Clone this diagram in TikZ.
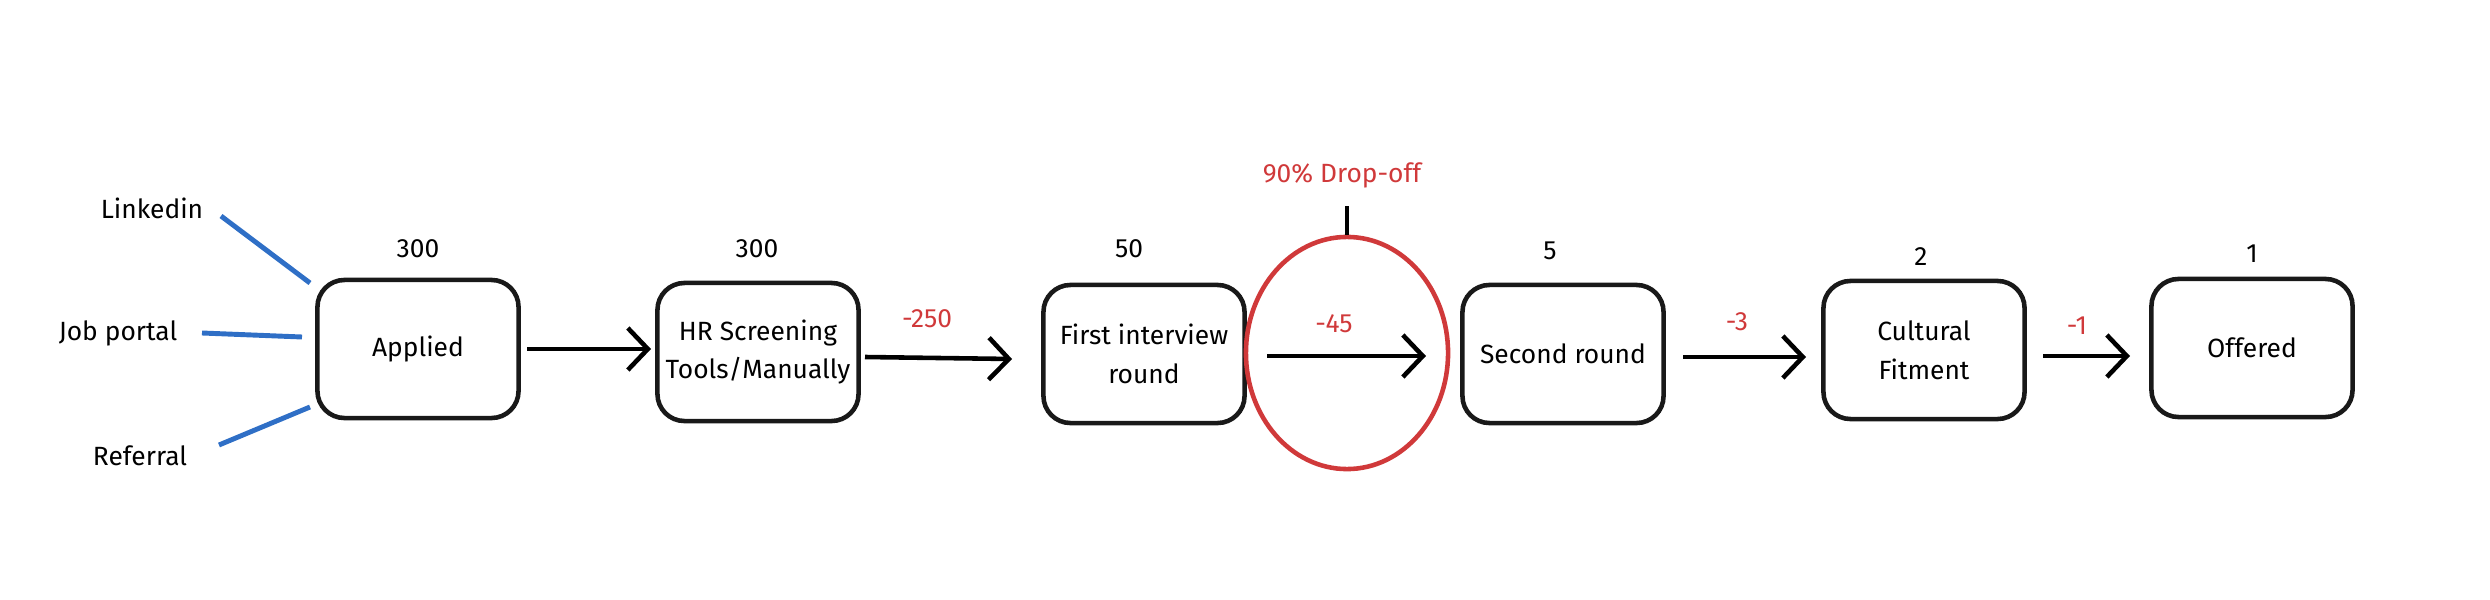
\documentclass[tikz,border=0pt]{standalone}
\usepackage{fontspec}
\setmainfont{Fira Sans}
\usetikzlibrary{arrows.meta,shapes.geometric}
\definecolor{dred}{HTML}{D0393A}
\definecolor{dblue}{HTML}{2F6FC6}
\begin{document}
\begin{tikzpicture}[x=0.01cm,y=-0.01cm,
  box/.style={draw=black!90,line width=1.3pt,rounded corners=0.27cm,minimum width=2.01cm,minimum height=1.38cm,inner sep=1pt,align=center,font=\fontsize{7.5}{11}\selectfont},
  lbl/.style={font=\fontsize{7.5}{9}\selectfont},
  rlbl/.style={font=\fontsize{7.5}{9}\selectfont,text=dred},
  flow/.style={line width=1.3pt,-{Straight Barb[length=0.2cm,width=0.42cm,line width=1.3pt]}},
  src/.style={draw=dblue,line width=1.4pt}]
\useasboundingbox (0,0) rectangle (2490,600);
\node[box] (app) at (418,349) {Applied};
\node[box] (hr) at (758,352) {HR Screening\\Tools/Manually};
\node[box] (fir) at (1144,354) {First interview\\round};
\node[box] (sec) at (1563,354) {Second round};
\node[box] (cul) at (1924,350) {Cultural\\Fitment};
\node[box] (off) at (2252,348) {Offered};
\node[lbl] (n1) at (418,249) {300};
\node[lbl] (n2) at (757,249) {300};
\node[lbl] (n3) at (1129,249) {50};
\node[lbl] (n4) at (1550,251) {5};
\node[lbl] (n5) at (1921,257) {2};
\node[lbl] (n6) at (2252,254) {1};
\node[lbl] (li) at (152,208) {Linkedin};
\node[lbl] (jp) at (118,333) {Job portal};
\node[lbl] (rf) at (140,456) {Referral};
\coordinate (liA) at (221,216); \coordinate (liB) at (310,283);
\coordinate (jpA) at (202,333); \coordinate (jpB) at (302,337);
\coordinate (rfA) at (219,445); \coordinate (rfB) at (310,407);
\draw[src] (liA) -- (liB);
\draw[src] (jpA) -- (jpB);
\draw[src] (rfA) -- (rfB);
\node[draw=dred,line width=1.3pt,ellipse,inner sep=0pt,minimum width=2.02cm,minimum height=2.32cm] (drop) at (1347,353) {};
\node[rlbl] (dt) at (1342,175) {90\% Drop-off};
\coordinate (dl) at (1347,206);
\draw[line width=1pt] (dl) -- (drop.north);
\coordinate (a1) at (527,349); \coordinate (b1) at (651,349);
\coordinate (a2) at (865,357); \coordinate (b2) at (1012,359);
\coordinate (a3) at (1267,356); \coordinate (b3) at (1426,356);
\coordinate (a4) at (1683,357); \coordinate (b4) at (1806,357);
\coordinate (a5) at (2043,356); \coordinate (b5) at (2130,356);
\draw[flow] (a1) -- (b1);
\draw[flow] (a2) -- (b2);
\draw[flow] (a3) -- (b3);
\draw[flow] (a4) -- (b4);
\draw[flow] (a5) -- (b5);
\node[rlbl] (m1) at (927,319) {-250};
\node[rlbl] (m2) at (1334,324) {-45};
\node[rlbl] (m3) at (1737,322) {-3};
\node[rlbl] (m4) at (2077,326) {-1};
\end{tikzpicture}
\end{document}
